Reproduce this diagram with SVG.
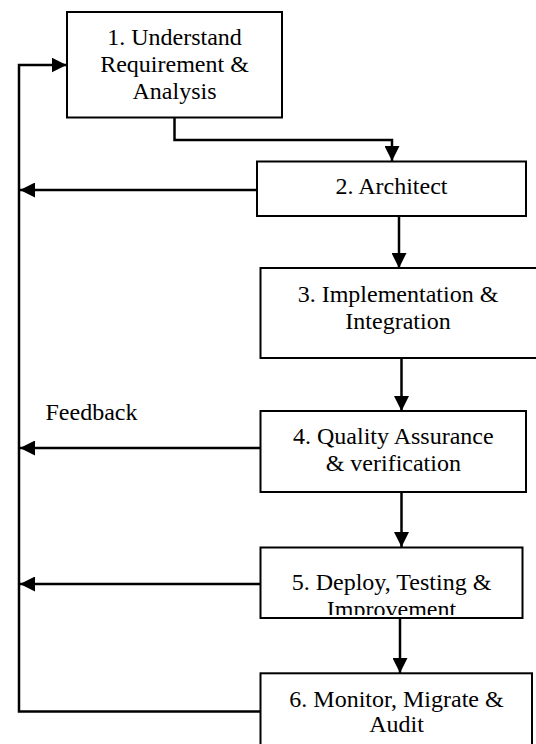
<svg xmlns="http://www.w3.org/2000/svg" width="536" height="744" viewBox="0 0 536 744">
<style>
.box{fill:#fff;stroke:#000;stroke-width:2}
.lbl{font-family:"Liberation Serif","Times New Roman",serif;font-size:24px;fill:#000;text-anchor:middle}
.free{font-family:"Liberation Serif","Times New Roman",serif;font-size:24px;fill:#000}
.conn{fill:none;stroke:#000;stroke-width:2.5}
</style>
<defs>
<marker id="ah" markerUnits="userSpaceOnUse" markerWidth="15" markerHeight="15" refX="15" refY="7.5" orient="auto" viewBox="0 0 15 15">
<path d="M0,0 L15,7.5 L0,15 z" fill="#000"/>
</marker>
<clipPath id="clip5"><rect x="261" y="548" width="262" height="67"/></clipPath>
</defs>
<rect width="536" height="744" fill="#fff"/>
<g id="connectors">
<path class="conn" d="M174.5,118 V140 H392 V161" marker-end="url(#ah)"/>
<path class="conn" d="M399,216 V268" marker-end="url(#ah)"/>
<path class="conn" d="M401.5,358 V411" marker-end="url(#ah)"/>
<path class="conn" d="M401.5,492 V547" marker-end="url(#ah)"/>
<path class="conn" d="M400,618 V673" marker-end="url(#ah)"/>
<path class="conn" d="M261,711.5 H19 V65 H66.5" marker-end="url(#ah)"/>
<path class="conn" d="M257,190 H20" marker-end="url(#ah)"/>
<path class="conn" d="M260.5,448 H20" marker-end="url(#ah)"/>
<path class="conn" d="M260.5,584 H20" marker-end="url(#ah)"/>
<text class="free" font-family="Liberation Serif, serif" x="45.5" y="420">Feedback</text>
</g>
<g id="n1" font-family="Liberation Serif, serif">
<rect class="box" x="67" y="12" width="215" height="105.5"/>
<text class="lbl" x="174.5" y="44.5">1. Understand</text>
<text class="lbl" x="174.5" y="71.5">Requirement &amp;</text>
<text class="lbl" x="174.5" y="99">Analysis</text>
</g>
<g id="n2" font-family="Liberation Serif, serif">
<rect class="box" x="257" y="161.5" width="269" height="54.5"/>
<text class="lbl" x="391.5" y="194">2. Architect</text>
</g>
<g id="n3" font-family="Liberation Serif, serif">
<rect class="box" x="260.5" y="268" width="290" height="90"/>
<text class="lbl" x="398" y="301.5">3. Implementation &amp;</text>
<text class="lbl" x="398" y="328.5">Integration</text>
</g>
<g id="n4" font-family="Liberation Serif, serif">
<rect class="box" x="260.5" y="411" width="265.5" height="81"/>
<text class="lbl" x="393.3" y="444">4. Quality Assurance</text>
<text class="lbl" x="393.3" y="471">&amp; verification</text>
</g>
<g id="n5" font-family="Liberation Serif, serif">
<rect class="box" x="260.5" y="547.5" width="262" height="70.5"/>
<text class="lbl" x="391.5" y="589.5">5. Deploy, Testing &amp;</text>
<text class="lbl" x="391.5" y="617" clip-path="url(#clip5)">Improvement</text>
</g>
<g id="n6" font-family="Liberation Serif, serif">
<rect class="box" x="260.5" y="673.3" width="271.5" height="90"/>
<text class="lbl" x="396.5" y="706.5">6. Monitor, Migrate &amp;</text>
<text class="lbl" x="396.5" y="732">Audit</text>
</g>
</svg>
